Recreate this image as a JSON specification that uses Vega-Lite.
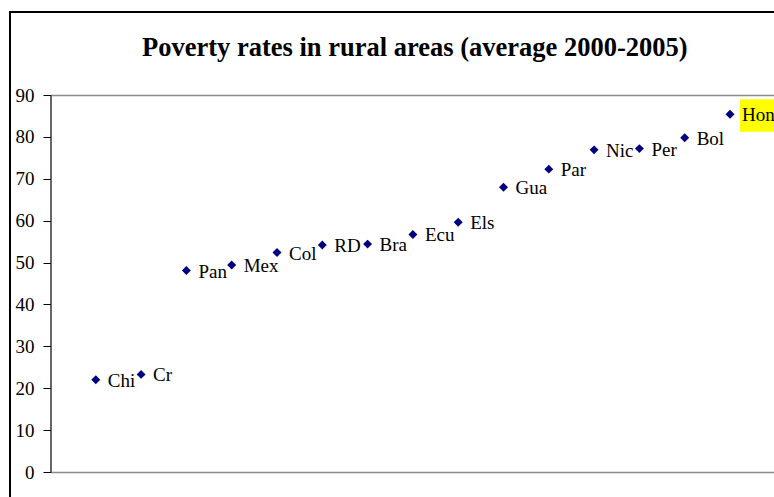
{
  "$schema": "https://vega.github.io/schema/vega-lite/v6.json",
  "autosize": "none",
  "padding": {"left": 10, "top": 12, "right": 0, "bottom": 0},
  "width": 800,
  "height": 500,
  "background": "white",
  "title": {
    "text": "Poverty rates in rural areas (average 2000-2005)",
    "anchor": "start",
    "frame": "group",
    "dx": 132,
    "offset": -49,
    "font": "Liberation Serif",
    "fontSize": 26.5,
    "fontWeight": "bold",
    "color": "black"
  },
  "config": {
    "view": {"stroke": "black", "strokeWidth": 2},
    "axis": {"grid": false}
  },
  "data": {
    "values": [
      {"country": "Chi", "order": 1, "rate": 22.0},
      {"country": "Cr", "order": 2, "rate": 23.3},
      {"country": "Pan", "order": 3, "rate": 48.1},
      {"country": "Mex", "order": 4, "rate": 49.4},
      {"country": "Col", "order": 5, "rate": 52.4},
      {"country": "RD", "order": 6, "rate": 54.2},
      {"country": "Bra", "order": 7, "rate": 54.4},
      {"country": "Ecu", "order": 8, "rate": 56.7},
      {"country": "Els", "order": 9, "rate": 59.6},
      {"country": "Gua", "order": 10, "rate": 68.0},
      {"country": "Par", "order": 11, "rate": 72.3},
      {"country": "Nic", "order": 12, "rate": 76.9},
      {"country": "Per", "order": 13, "rate": 77.2},
      {"country": "Bol", "order": 14, "rate": 79.8},
      {"country": "Hon", "order": 15, "rate": 85.4}
    ]
  },
  "encoding": {
    "x": {
      "field": "order",
      "type": "quantitative",
      "scale": {"domain": [0, 16], "range": [40.5, 765.3], "nice": false, "zero": false}
    },
    "y": {
      "field": "rate",
      "type": "quantitative",
      "scale": {"domain": [0, 90], "range": [460, 83], "nice": false},
      "axis": {
        "orient": "left",
        "offset": -40.5,
        "title": null,
        "values": [0, 10, 20, 30, 40, 50, 60, 70, 80, 90],
        "domainColor": "black",
        "domainWidth": 1.2,
        "tickColor": "black",
        "tickSize": 7.5,
        "tickWidth": 1,
        "labelPadding": 9,
        "labelFont": "Liberation Serif",
        "labelFontSize": 19,
        "labelColor": "black"
      }
    }
  },
  "layer": [
    {
      "mark": {"type": "point", "shape": "diamond", "filled": true, "color": "#000080", "size": 80, "opacity": 1},
      "encoding": {
        "x": {
          "field": "order",
          "type": "quantitative",
          "axis": {
            "orient": "bottom",
            "offset": -40,
            "title": null,
            "labels": false,
            "ticks": false,
            "domainColor": "#8c8c8c",
            "domainWidth": 1.6
          }
        }
      }
    },
    {
      "transform": [{"filter": "datum.country === 'Hon'"}],
      "mark": {"type": "rect", "color": "#ffff00", "xOffset": 10, "x2Offset": 60, "yOffset": -15, "y2Offset": 17.4},
      "encoding": {
        "x": {"field": "order", "type": "quantitative", "axis": null},
        "x2": {"field": "order"},
        "y": {"field": "rate", "type": "quantitative"},
        "y2": {"field": "rate"}
      }
    },
    {
      "mark": {
        "type": "text",
        "align": "left",
        "baseline": "alphabetic",
        "dx": 12,
        "dy": 7,
        "font": "Liberation Serif",
        "fontSize": 19,
        "color": "black"
      },
      "encoding": {
        "text": {"field": "country"},
        "x": {
          "field": "order",
          "type": "quantitative",
          "axis": {
            "orient": "top",
            "offset": -83,
            "title": null,
            "labels": false,
            "ticks": false,
            "domainColor": "#8c8c8c",
            "domainWidth": 1.4
          }
        }
      }
    }
  ],
  "resolve": {"axis": {"x": "independent"}}
}
